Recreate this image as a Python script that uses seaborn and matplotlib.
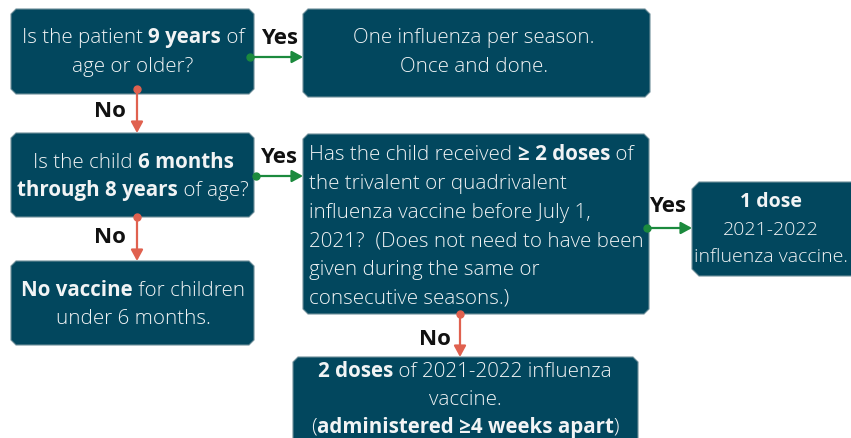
import matplotlib
matplotlib.use("Agg")
import matplotlib.pyplot as plt
import seaborn as sns
from matplotlib.patches import Polygon

sns.set_theme(style="white")
plt.rcParams['font.family'] = ['Open Sans', 'DejaVu Sans']

# ---- content ----
q1_lines = [[("Is the patient ", False), ("9 years", True), (" of", False)],
            [("age or older?", False)]]
once_lines = [[("One influenza per season.", False)],
              [("Once and done.", False)]]
q2_lines = [[("Is the child ", False), ("6 months", True)],
            [("through 8 years", True), (" of age?", False)]]
q3_lines = [[("Has the child received ", False), ("≥ 2 doses", True), (" of", False)],
            [("the trivalent or quadrivalent", False)],
            [("influenza vaccine before July 1,", False)],
            [("2021?  (Does not need to have been", False)],
            [("given during the same or", False)],
            [("consecutive seasons.)", False)]]
one_dose_lines = [[("1 dose", True)],
                  [("2021-2022", False)],
                  [("influenza vaccine.", False)]]
no_vac_lines = [[("No vaccine", True), (" for children", False)],
                [("under 6 months.", False)]]
two_dose_lines = [[("2 doses", True), (" of 2021-2022 influenza", False)],
                  [("vaccine.", False)],
                  [("(", False), ("administered ≥4 weeks apart", True), (")", False)]]
yes_label = "Yes"
no_label = "No"

# ---- layout (pixel coordinates, y down) ----
W, H = 851, 439
BOX = "#02475e"
EDGE = "#6f8f9a"
TXT = "#f2f4f5"
GREEN = "#1b8a3d"
RED = "#e0614f"
FS = 14.8

fig = plt.figure(figsize=(W / 100, H / 100), dpi=100)
ax = fig.add_axes([0, 0, 1, 1])
ax.set_xlim(0, W)
ax.set_ylim(H, 0)
ax.axis("off")
renderer = fig.canvas.get_renderer()


def box(x0, y0, x1, y1, c=5):
    pts = [(x0 + c, y0), (x1 - c, y0), (x1, y0 + c), (x1, y1 - c),
           (x1 - c, y1), (x0 + c, y1), (x0, y1 - c), (x0, y0 + c)]
    ax.add_patch(Polygon(pts, closed=True, facecolor=BOX, edgecolor=EDGE,
                         linewidth=0.8, zorder=1))


def rich(x, y, segs, ha="center", size=FS):
    objs, widths = [], []
    for s, b in segs:
        t = ax.text(0, y, s, fontsize=size, color=TXT, va="center", ha="left",
                    fontweight="bold" if b else "light", zorder=3)
        objs.append(t)
        widths.append(t.get_window_extent(renderer=renderer).width)
    total = sum(widths)
    cx = x - total / 2 if ha == "center" else x
    for t, w in zip(objs, widths):
        t.set_x(cx)
        cx += w


def block(x, ys, lines, ha="center", size=FS):
    for y, segs in zip(ys, lines):
        rich(x, y, segs, ha=ha, size=size)


def arrow(x0, y0, x1, y1, color):
    ax.annotate("", xy=(x1, y1), xytext=(x0, y0),
                arrowprops=dict(arrowstyle="-|>,head_length=0.55,head_width=0.3",
                                color=color, lw=1.6, shrinkA=0, shrinkB=0),
                zorder=4)
    ax.plot([x0], [y0], "o", color=color, markersize=5, zorder=5)


def label(x, y, s):
    ax.text(x, y, s, fontsize=16, fontweight="bold", color="#111111",
            ha="center", va="center", zorder=5)


box(11, 10, 254, 95)
box(303, 10, 650, 98)
box(11, 134, 254, 218)
box(303, 135, 649, 315)
box(692, 183, 860, 277, c=7)
box(11, 262, 254, 346)
box(293, 358, 638, 450)

block(133, [38, 67], q1_lines)
block(474, [38, 67], once_lines)
block(133, [163, 191], q2_lines)
block(309, [155, 184, 213, 242, 270, 299], q3_lines, ha="left")
block(771, [202, 230, 257], one_dose_lines, size=14.0)
block(133, [291, 319], no_vac_lines)
block(465, [372, 400, 428], two_dose_lines)

arrow(250, 58, 303, 58, GREEN)
arrow(137, 90, 137, 134, RED)
arrow(256, 177, 303, 177, GREEN)
arrow(137, 218, 137, 262, RED)
arrow(647, 229, 692, 229, GREEN)
arrow(460, 315, 460, 358, RED)

label(280, 38, yes_label)
label(110, 112, no_label)
label(279, 158, yes_label)
label(110, 238, no_label)
label(668, 207, yes_label)
label(435, 340, no_label)

fig.savefig("out.png", dpi=100)
